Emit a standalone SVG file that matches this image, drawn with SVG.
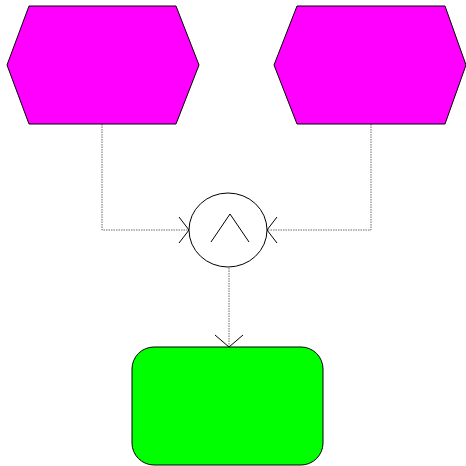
<svg xmlns="http://www.w3.org/2000/svg" width="466" height="466" viewBox="0 0 466 466">
<style>
.hex{fill:#ff00ff;stroke:#000;stroke-width:1}
.rect{fill:#00ff00;stroke:#000;stroke-width:1}
.gate{fill:#fff;stroke:#000;stroke-width:1}
.conn{fill:none;stroke:#444;stroke-width:0.8;stroke-dasharray:1.5,1}
.head{fill:none;stroke:#000;stroke-width:1}
</style>
<rect width="466" height="466" fill="#fff"/>
<g id="connectors">
<path class="conn" d="M102,124 V230 H189"/>
<path class="conn" d="M371,124 V230 H267"/>
<path class="conn" d="M229,268 V347"/>
<path class="head" d="M179,217 L189,230 L179,243"/>
<path class="head" d="M277,217 L267,230 L277,243"/>
<path class="head" d="M215,335 L229,347 L243,335"/>
</g>
<g id="node1"><polygon class="hex" points="29,6 176,6 199,65 176,124 29,124 7,65"/></g>
<g id="node2"><polygon class="hex" points="297,6 445,6 466,65 445,124 297,124 274,65"/></g>
<g id="node3"><ellipse class="gate" cx="228" cy="230" rx="39" ry="37"/><path class="head" d="M211,242 L230,214 L249,242"/></g>
<g id="node4"><rect class="rect" x="132" y="347" width="191" height="118" rx="22" ry="22"/></g>
</svg>
